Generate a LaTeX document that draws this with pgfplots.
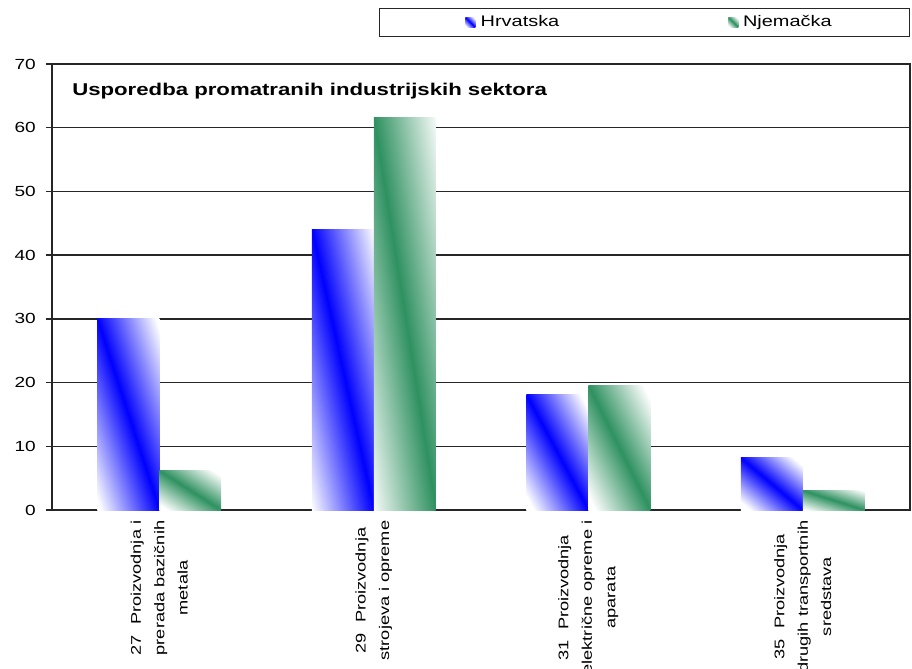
\documentclass[border=0pt]{standalone}
\usepackage{fontspec}
\setmainfont[FakeStretch=1.3]{Liberation Sans}
\usepackage{pgfplots}
\pgfplotsset{compat=1.18}
\definecolor{hrblue}{RGB}{0,0,255}
\definecolor{degreen}{RGB}{46,145,96}
\pgfdeclareverticalshading{bluediag}{100bp}{color(0bp)=(white); color(20bp)=(white); color(50bp)=(hrblue); color(80bp)=(white); color(100bp)=(white)}
\pgfdeclareverticalshading{greendiag}{100bp}{color(0bp)=(white); color(20bp)=(white); color(50bp)=(degreen); color(80bp)=(white); color(100bp)=(white)}
\tikzset{
  hrshade/.style={shade, shading=bluediag, shading angle=-45},
  deshade/.style={shade, shading=greendiag, shading angle=-45},
}
\pgfplotsset{
  hrbar/.style={ybar, bar width=0.289, bar shift=-0.1445, draw=none, hrshade, shading angle=#1},
  debar/.style={ybar, bar width=0.289, bar shift=0.1445, draw=none, deshade, shading angle=#1},
}
\begin{document}
\begin{tikzpicture}
\begin{axis}[
  at={(0,0)}, anchor=south west,
  scale only axis,
  width=643.5pt, height=334.5pt,
  xmin=-0.5, xmax=3.5,
  ymin=0, ymax=70,
  ytick={0,10,20,30,40,50,60,70},
  xtick={0,1,2,3},
  xticklabels={{27\ \ Proizvodnja i\\prerada bazičnih\\metala},
               {29\ \ Proizvodnja\\strojeva i opreme},
               {31\ \ Proizvodnja\\električne opreme i\\aparata},
               {35\ \ Proizvodnja\\drugih transportnih\\sredstava}},
  ymajorgrids,
  grid style={black!85, line width=1.1pt},
  axis line style={black!85, line width=1.1pt},
  tick style={black!85, line width=1.1pt},
  tick align=outside,
  major tick length=4.5pt,
  ytick pos=left,
  xtick style={draw=none},
  /pgf/number format/assume math mode=true,
  yticklabel style={font=\fontsize{11}{13}\selectfont, inner xsep=0pt, xshift=-7.5pt},
  xticklabel style={rotate=90, anchor=east, align=center,
    font=\fontsize{10.5}{17.6}\selectfont},
  legend columns=2,
  legend style={at={(1,1)}, anchor=south east, yshift=20.25pt,
    draw=black!85, line width=1pt, inner xsep=0pt, inner ysep=5pt,
    font=\fontsize{11.5}{13}\selectfont,
    nodes={inner xsep=0pt, inner ysep=0pt, text width=124.75pt, align=left,
      text height=8.5pt, text depth=2.5pt},
    /tikz/column 2/.style={column sep=61pt}},
]
% one plot per bar so that each bar gets its own diagonal gradient
\addplot[hrbar=-72.0,
  legend image code/.code={\path (-64.5pt,0) (11.5pt,0);
    \shade[hrshade] (0pt,-3.75pt) rectangle (7.5pt,3.75pt);}]
  coordinates {(0,30)};
\addlegendentry{Hrvatska}
\addplot[debar=-32.5,
  legend image code/.code={\path (0pt,0) (11pt,0);
    \shade[deshade] (0pt,-3.75pt) rectangle (7.5pt,3.75pt);}]
  coordinates {(0,6.2)};
\addlegendentry{Njemačka}
\addplot[hrbar=-77.5, forget plot] coordinates {(1,44)};
\addplot[hrbar=-61.7, forget plot] coordinates {(2,18.1)};
\addplot[hrbar=-40.1, forget plot] coordinates {(3,8.2)};
\addplot[debar=-81.0, forget plot] coordinates {(1,61.6)};
\addplot[debar=-63.6, forget plot] coordinates {(2,19.6)};
\addplot[debar=-17.7, forget plot] coordinates {(3,3.1)};
\node[anchor=base west, inner sep=0pt, font=\bfseries\fontsize{12.8}{15}\selectfont]
  at ([xshift=15pt, yshift=-23.9pt]rel axis cs:0,1) {Usporedba promatranih industrijskih sektora};
\node[anchor=base west, inner sep=0pt, font=\fontsize{11}{13}\selectfont]
  at ([xshift=-32.25pt, yshift=27.6pt]rel axis cs:0,1) {\%};
\end{axis}
\pgfresetboundingbox
\path[use as bounding box] (-39pt,-118.5pt) rectangle (645pt,382.5pt);
\end{tikzpicture}
\end{document}
